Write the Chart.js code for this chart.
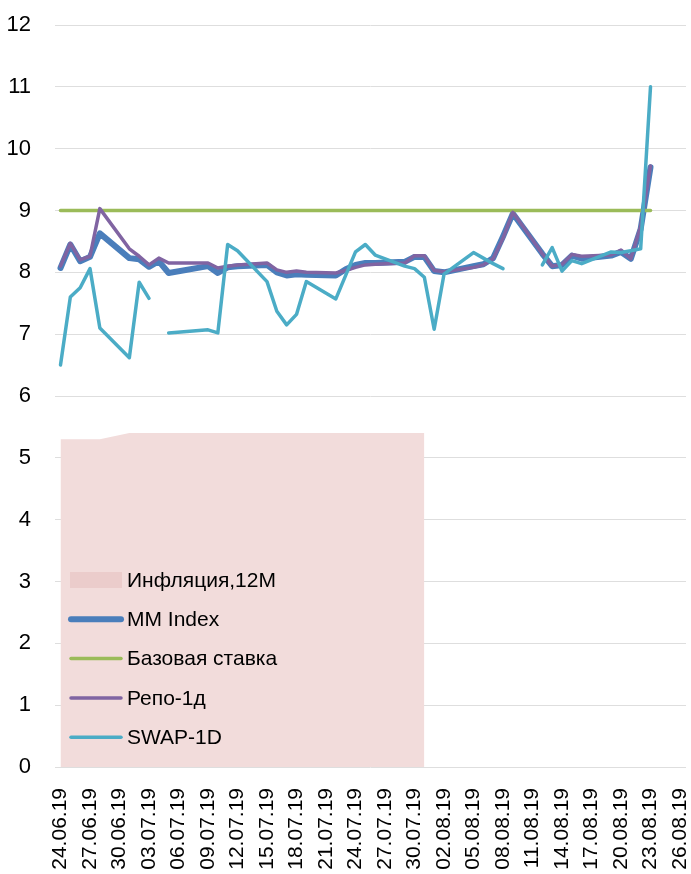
<!DOCTYPE html>
<html>
<head>
<meta charset="utf-8">
<script src="https://cdn.jsdelivr.net/npm/chart.js@4/dist/chart.umd.min.js"></script>
<style>
  html, body { margin: 0; padding: 0; background: #fff; }
</style>
</head>
<body>
<canvas id="chart" width="691" height="874"></canvas>
<script>
// business days with data
const dates = [
  '24.06.19','25.06.19','26.06.19','27.06.19','28.06.19',
  '01.07.19','02.07.19','03.07.19','04.07.19','05.07.19',
  '09.07.19','10.07.19','11.07.19','12.07.19',
  '15.07.19','16.07.19','17.07.19','18.07.19','19.07.19',
  '22.07.19','23.07.19','24.07.19','25.07.19','26.07.19',
  '29.07.19','30.07.19','31.07.19','01.08.19','02.08.19',
  '05.08.19','06.08.19','07.08.19','08.08.19','09.08.19',
  '12.08.19','13.08.19','14.08.19','15.08.19','16.08.19',
  '19.08.19','20.08.19','21.08.19','22.08.19','23.08.19'
];

const inflation = [
  5.3, 5.3, 5.3, 5.3, 5.3,
  5.4, 5.4, 5.4, 5.4, 5.4,
  5.4, 5.4, 5.4, 5.4,
  5.4, 5.4, 5.4, 5.4, 5.4,
  5.4, 5.4, 5.4, 5.4, 5.4,
  5.4, 5.4, 5.4, null, null,
  null, null, null, null, null,
  null, null, null, null, null,
  null, null, null, null, null
];

const mmIndex = [
  8.07, 8.45, 8.18, 8.25, 8.63,
  8.23, 8.21, 8.09, 8.18, 7.99,
  8.10, 7.99, 8.08, 8.10,
  8.12, 8.00, 7.95, 7.97, 7.96,
  7.95, 8.05, 8.12, 8.15, 8.15,
  8.17, 8.25, 8.25, 8.02, 8.00,
  8.10, 8.13, 8.23, 8.58, 8.95,
  8.30, 8.10, 8.12, 8.27, 8.22,
  8.27, 8.33, 8.22, 8.70, 9.70
];

const baseRate = [
  9, 9, 9, 9, 9,
  9, 9, 9, 9, 9,
  9, 9, 9, 9,
  9, 9, 9, 9, 9,
  9, 9, 9, 9, 9,
  9, 9, 9, 9, 9,
  9, 9, 9, 9, 9,
  9, 9, 9, 9, 9,
  9, 9, 9, 9, 9
];

const repo1d = [
  8.10, 8.47, 8.20, 8.26, 9.03,
  8.38, 8.26, 8.12, 8.23, 8.15,
  8.15, 8.07, 8.10, 8.12,
  8.15, 8.04, 8.00, 8.02, 8.00,
  7.99, 8.03, 8.08, 8.12, 8.13,
  8.15, 8.27, 8.27, 8.03, 8.01,
  8.08, 8.12, 8.22, 8.55, 8.97,
  8.30, 8.10, 8.13, 8.29, 8.26,
  8.28, 8.36, 8.22, 8.75, 9.72
];

const swap1d = [
  6.50, 7.60, 7.75, 8.06, 7.10,
  6.62, 7.84, 7.58, null, 7.02,
  7.07, 7.02, 8.45, 8.35,
  7.85, 7.37, 7.15, 7.32, 7.85,
  7.57, 7.95, 8.33, 8.45, 8.28,
  8.10, 8.06, 7.92, 7.08, 7.97,
  8.32, 8.23, 8.14, 8.06, null,
  8.12, 8.40, 8.02, 8.19, 8.14,
  8.33, 8.32, 8.35, 8.38, 11.0
];

const tickLabels = [
  '24.06.19','27.06.19','30.06.19','03.07.19','06.07.19','09.07.19','12.07.19',
  '15.07.19','18.07.19','21.07.19','24.07.19','27.07.19','30.07.19','02.08.19',
  '05.08.19','08.08.19','11.08.19','14.08.19','17.08.19','20.08.19','23.08.19','26.08.19'
];

const seriesNames = ['Инфляция,12M', 'MM Index', 'Базовая ставка', 'Репо-1д', 'SWAP-1D'];

// day offsets on a calendar axis
const dayNo = s => {
  const [d, m, y] = s.split('.').map(Number);
  return Date.UTC(2000 + y, m - 1, d) / 86400000;
};
const day0 = dayNo(dates[0]);
const xs = dates.map(s => dayNo(s) - day0);
const tickDays = tickLabels.map(s => dayNo(s) - day0);
const pts = arr => arr.map((v, i) => ({ x: xs[i], y: v }));

const FONT = '"Liberation Sans", Arial, sans-serif';

const lineDs = (label, data, color, width, order) => ({
  label,
  data: pts(data),
  borderColor: color,
  backgroundColor: color,
  borderWidth: width,
  pointRadius: 0,
  tension: 0,
  fill: false,
  borderJoinStyle: 'round',
  borderCapStyle: 'round',
  order
});

// legend drawn inside the plot, lower left
const insideLegend = {
  id: 'insideLegend',
  afterDatasetsDraw(chart) {
    const ctx = chart.ctx;
    ctx.save();
    ctx.font = '21px ' + FONT;
    ctx.textBaseline = 'middle';
    chart.data.datasets.forEach((ds, i) => {
      const y = 580 + i * 39.3;
      if (ds.fill) {
        ctx.fillStyle = '#ebcccb';
        ctx.fillRect(70, y - 8, 52, 16);
      } else {
        ctx.strokeStyle = ds.borderColor;
        ctx.lineWidth = ds.borderWidth;
        ctx.lineCap = 'round';
        ctx.beginPath();
        ctx.moveTo(71, y);
        ctx.lineTo(121, y);
        ctx.stroke();
      }
      ctx.fillStyle = '#000';
      ctx.fillText(ds.label, 127, y + 1);
    });
    ctx.restore();
  }
};

new Chart(document.getElementById('chart'), {
  type: 'line',
  data: {
    datasets: [
      {
        label: seriesNames[0],
        data: pts(inflation),
        backgroundColor: '#f2dcdb',
        borderColor: '#f2dcdb',
        borderWidth: 0,
        pointRadius: 0,
        fill: 'origin',
        order: 5
      },
      lineDs(seriesNames[1], mmIndex, '#4a7ebb', 6, 4),
      lineDs(seriesNames[2], baseRate, '#9bbb59', 3.5, 3),
      lineDs(seriesNames[3], repo1d, '#8064a2', 3.5, 2),
      lineDs(seriesNames[4], swap1d, '#4bacc6', 3.5, 1)
    ]
  },
  options: {
    responsive: false,
    animation: false,
    devicePixelRatio: 1,
    layout: { padding: { top: 25, right: 5, left: 0, bottom: 0 } },
    plugins: {
      legend: { display: false },
      tooltip: { enabled: false }
    },
    scales: {
      x: {
        type: 'linear',
        min: -0.56,
        max: 63.61,
        afterBuildTicks: scale => {
          scale.ticks = tickDays.map(v => ({ value: v }));
        },
        afterFit: scale => {
          scale.height = 107;
          scale.paddingLeft = 0;
          scale.paddingRight = 0;
        },
        ticks: {
          autoSkip: false,
          minRotation: 90,
          maxRotation: 90,
          padding: 13,
          color: '#000',
          font: { family: FONT, size: 21 },
          callback: (v, i) => tickLabels[i]
        },
        grid: { display: false },
        border: { display: false }
      },
      y: {
        min: 0,
        max: 12,
        afterBuildTicks: scale => {
          scale.ticks = [0, 1, 2, 3, 4, 5, 6, 7, 8, 9, 10, 11, 12].map(v => ({ value: v }));
        },
        afterFit: scale => {
          scale.width = 55;
          scale.paddingTop = 0;
          scale.paddingBottom = 0;
        },
        ticks: {
          padding: 24,
          color: '#000',
          font: { family: FONT, size: 22 }
        },
        grid: { color: '#dedede', lineWidth: 1, drawTicks: false },
        border: { display: false }
      }
    }
  },
  plugins: [insideLegend]
});
</script>
</body>
</html>
